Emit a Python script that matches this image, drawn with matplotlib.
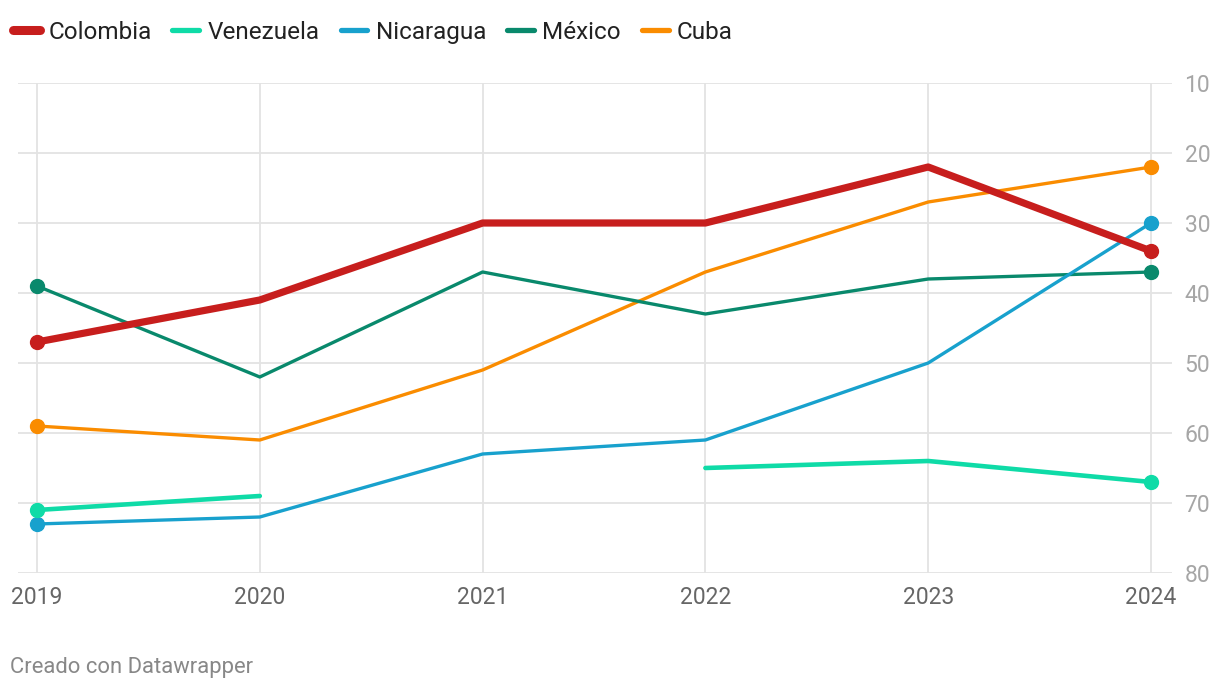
import numpy as np
import matplotlib.pyplot as plt
from matplotlib.lines import Line2D

plt.rcParams['font.family'] = ['Roboto', 'DejaVu Sans']

years = [2019, 2020, 2021, 2022, 2023, 2024]
colombia = [47, 41, 30, 30, 22, 34]
venezuela = [71, 69, np.nan, 65, 64, 67]
nicaragua = [73, 72, 63, 61, 50, 30]
mexico = [39, 52, 37, 43, 38, 37]
cuba = [59, 61, 51, 37, 27, 22]

series = [
    ("Colombia", colombia, "#c71e1d", 5.2),
    ("Venezuela", venezuela, "#0fdba7", 3.3),
    ("Nicaragua", nicaragua, "#18a1cd", 2.4),
    ("México", mexico, "#09896c", 2.4),
    ("Cuba", cuba, "#fa8c00", 2.4),
]

fig = plt.figure(figsize=(12.2, 6.9), dpi=100)
ax = fig.add_axes([18/1220, (690-573)/690, (1172-18)/1220, (573-83)/690])

# dibujar de atrás hacia adelante, Colombia encima
for name, vals, col, lw in series[::-1]:
    v = np.array(vals, dtype=float)
    ax.plot(years, v, color=col, lw=lw, solid_capstyle='round', zorder=3 if name != "Colombia" else 4)
    ok = np.where(~np.isnan(v))[0]
    ax.plot([years[ok[0]], years[ok[-1]]], [v[ok[0]], v[ok[-1]]], 'o', color=col,
            ms=10, zorder=5)

ax.set_xlim(2019 - 19/222.8, 2024 + 21/222.8)
ax.set_ylim(80, 10)
ax.set_yticks(range(10, 81, 10))
ax.set_xticks(years)
ax.yaxis.tick_right()
ax.grid(True, color='#e3e3e3', lw=1.3)
ax.set_axisbelow(True)
for s in ax.spines.values():
    s.set_visible(False)
ax.tick_params(axis='both', length=0)
ax.tick_params(axis='y', labelsize=16.5, labelcolor='#a6a6a6', pad=9)
ax.tick_params(axis='x', labelsize=16.5, labelcolor='#666666', pad=9)

handles = [Line2D([0], [0], color=c, lw=(6.5 if n == "Colombia" else 3.8), solid_capstyle='round')
           for n, _, c, _ in series]
fig.legend(handles, [s[0] for s in series], loc='upper left', bbox_to_anchor=(13/1220, 1 - 21/690),
           ncol=5, frameon=False, fontsize=17.5, handlelength=1.1, handletextpad=0.35,
           columnspacing=0.86, borderpad=0, borderaxespad=0, labelcolor='#222222')

fig.text(10/1220, 1 - 668/690, "Creado con Datawrapper", fontsize=15.8, color='#888888', va='center')

fig.savefig('out.png', dpi=100)
